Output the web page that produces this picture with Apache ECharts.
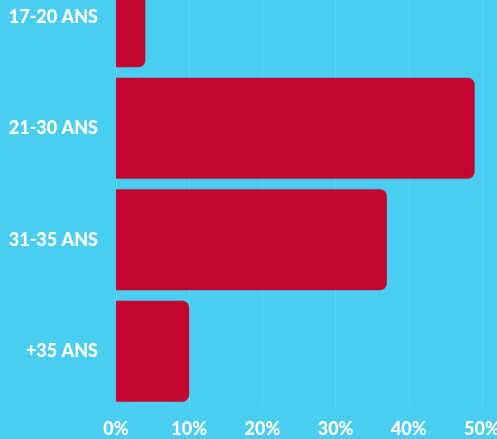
<!DOCTYPE html>
<html><head><meta charset="utf-8">
<script src="https://cdn.jsdelivr.net/npm/echarts@6/dist/echarts.min.js"></script>
<style>html,body{margin:0;padding:0;background:#49CEF2;overflow:hidden;width:497px;height:439px;}#c{position:absolute;left:0;top:-39px;width:497px;height:478px;}</style>
</head><body><div id="c"></div>
<script>
const categories = ['17-20 ANS', '21-30 ANS', '31-35 ANS', '+35 ANS'];
const values = [4, 49, 37, 10];
const xTicks = [0, 10, 20, 30, 40, 50];

const chart = echarts.init(document.getElementById('c'));
chart.setOption({
  backgroundColor: '#49CEF2',
  animation: false,
  grid: { left: 116, right: 15, top: 0, bottom: 32, containLabel: false, outerBoundsMode: 'none' },
  xAxis: {
    type: 'value', min: xTicks[0], max: xTicks[xTicks.length - 1], interval: 10,
    axisLine: { show: false }, axisTick: { show: false },
    splitLine: { show: true, lineStyle: { color: 'rgba(255,255,255,0.12)', width: 1 } },
    axisLabel: { formatter: '{value}%', color: '#fff', fontFamily: 'Lato', fontWeight: 900, fontSize: 18, margin: 13 }
  },
  yAxis: {
    type: 'category', data: categories, inverse: true,
    axisLine: { show: false }, axisTick: { show: false },
    axisLabel: { color: '#fff', fontFamily: 'Lato', fontWeight: 900, fontSize: 18, margin: 18 }
  },
  series: [{
    type: 'bar', data: values, barCategoryGap: '9.5%',
    itemStyle: { color: '#C30630', borderRadius: [0, 7, 7, 0] }
  }]
});
</script></body></html>
